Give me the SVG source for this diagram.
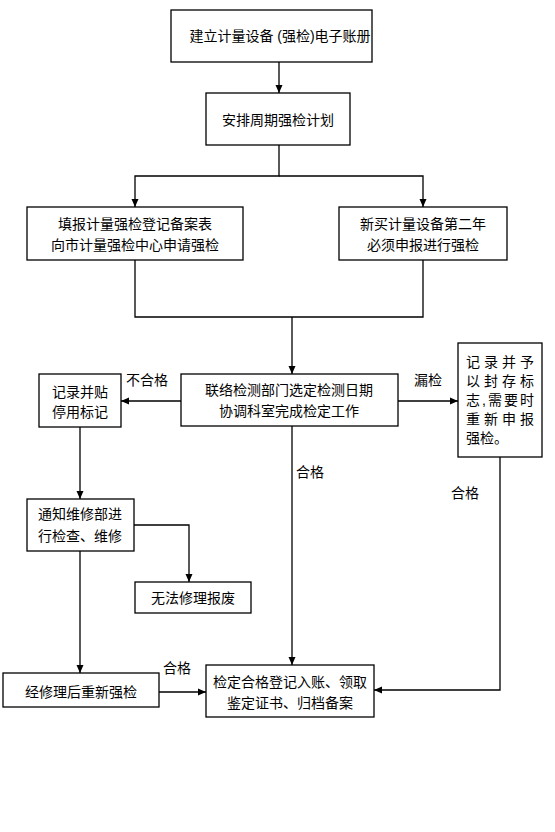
<svg xmlns="http://www.w3.org/2000/svg" width="555" height="832" viewBox="0 0 555 832">
<style>
.box{fill:#fff;stroke:#000;stroke-width:1.3}
.t{font-family:"Liberation Sans","Noto Sans CJK SC",sans-serif;font-size:14px;fill:#000;text-anchor:middle}
.l{font-family:"Liberation Sans","Noto Sans CJK SC",sans-serif;font-size:14px;fill:#000}
.c{fill:none;stroke:#000;stroke-width:1.3}
</style>
<defs>
<marker id="a" viewBox="0 0 8 8" refX="8" refY="4" markerWidth="8" markerHeight="8" markerUnits="userSpaceOnUse" orient="auto">
<path d="M0,0.5 L8,4 L0,7.5 Z" fill="#000"/>
</marker>
</defs>
<rect width="555" height="832" fill="#fff"/>
<g id="connectors">
<line class="c" x1="279" y1="62" x2="279" y2="93" marker-end="url(#a)"/>
<polyline class="c" points="279,145 279,176 135,176 135,207" marker-end="url(#a)"/>
<polyline class="c" points="279,176 423,176 423,207" marker-end="url(#a)"/>
<polyline class="c" points="135,260 135,317 423,317 423,260"/>
<line class="c" x1="292" y1="317" x2="292" y2="374" marker-end="url(#a)"/>
<line class="c" x1="181" y1="401" x2="121" y2="401" marker-end="url(#a)"/>
<line class="c" x1="398" y1="401" x2="458" y2="401" marker-end="url(#a)"/>
<line class="c" x1="292" y1="426" x2="292" y2="665" marker-end="url(#a)"/>
<line class="c" x1="80" y1="427" x2="80" y2="499" marker-end="url(#a)"/>
<polyline class="c" points="134,525 189,525 189,582" marker-end="url(#a)"/>
<line class="c" x1="80" y1="551" x2="80" y2="673" marker-end="url(#a)"/>
<line class="c" x1="159" y1="692" x2="206" y2="692" marker-end="url(#a)"/>
<polyline class="c" points="500,457 500,690 374,690" marker-end="url(#a)"/>
<text class="l" x="126" y="385">不合格</text>
<text class="l" x="414" y="385">漏检</text>
<text class="l" x="296" y="477">合格</text>
<text class="l" x="451" y="498">合格</text>
<text class="l" x="163" y="673">合格</text>
</g>
<g id="n1"><rect class="box" x="171" y="10" width="201" height="52"/><text class="t" x="280" y="41">建立计量设备 (强检)电子账册</text></g>
<g id="n2"><rect class="box" x="206" y="93" width="144" height="52"/><text class="t" x="278" y="125">安排周期强检计划</text></g>
<g id="n3"><rect class="box" x="27" y="207" width="216" height="53"/><text class="t" x="135" y="229">填报计量强检登记备案表</text><text class="t" x="135" y="250">向市计量强检中心申请强检</text></g>
<g id="n4"><rect class="box" x="339" y="207" width="168" height="53"/><text class="t" x="423" y="229">新买计量设备第二年</text><text class="t" x="423" y="250">必须申报进行强检</text></g>
<g id="n5"><rect class="box" x="181" y="374" width="217" height="52"/><text class="t" x="289" y="395">联络检测部门选定检测日期</text><text class="t" x="289" y="416">协调科室完成检定工作</text></g>
<g id="n6"><rect class="box" x="39" y="374" width="82" height="53"/><text class="t" x="80" y="397">记录并贴</text><text class="t" x="80" y="417">停用标记</text></g>
<g id="n7"><rect class="box" x="458" y="343" width="84" height="114"/>
<text class="l" x="466" y="367" textLength="68" lengthAdjust="spacing">记录并予</text>
<text class="l" x="466" y="386" textLength="68" lengthAdjust="spacing">以封存标</text>
<text class="l" x="466" y="405" textLength="68" lengthAdjust="spacing">志,需要时</text>
<text class="l" x="466" y="424" textLength="68" lengthAdjust="spacing">重新申报</text>
<text class="l" x="466" y="443">强检。</text></g>
<g id="n8"><rect class="box" x="27" y="499" width="107" height="52"/><text class="t" x="80" y="519">通知维修部进</text><text class="t" x="80" y="541">行检查、维修</text></g>
<g id="n9"><rect class="box" x="135" y="582" width="116" height="31"/><text class="t" x="193" y="603">无法修理报废</text></g>
<g id="n10"><rect class="box" x="3" y="673" width="156" height="34"/><text class="t" x="81" y="697">经修理后重新强检</text></g>
<g id="n11"><rect class="box" x="206" y="665" width="168" height="52"/><text class="t" x="290" y="687">检定合格登记入账、领取</text><text class="t" x="290" y="708">鉴定证书、归档备案</text></g>
</svg>
